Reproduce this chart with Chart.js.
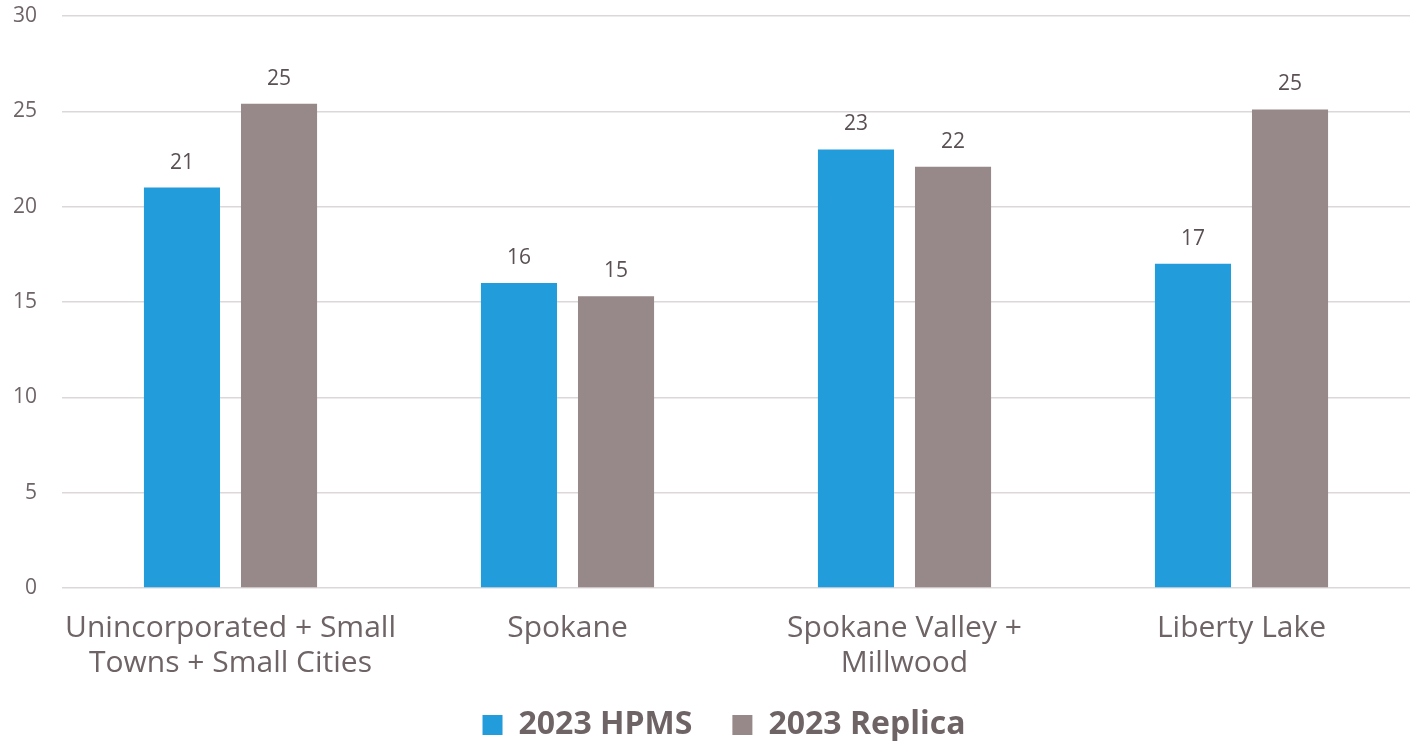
<!DOCTYPE html>
<html><head><meta charset="utf-8">
<script src="https://cdn.jsdelivr.net/npm/chart.js@4"></script>
<style>html,body{margin:0;padding:0;background:#fff}#wrap{width:1410px;height:741px}</style>
</head><body><div id="wrap"><canvas id="c" width="1410" height="741"></canvas></div>
<script>
const categories = [["Unincorporated + Small","Towns + Small Cities"],"Spokane",["Spokane Valley +","Millwood"],"Liberty Lake"];
const hpms = [21.0, 16.0, 23.0, 17.0];
const replica = [25.4, 15.3, 22.1, 25.1];
const seriesNames = ["2023 HPMS","2023 Replica"];
const FONT = "'Open Sans', Lato, sans-serif";
const TXT = "#6e6466";

const labelPlugin = {
  id:'vals',
  afterDatasetsDraw(chart){
    const ctx = chart.ctx;
    ctx.save();
    ctx.font = "21px " + FONT;
    ctx.fillStyle = "#5a5053";
    ctx.textAlign = "center";
    ctx.textBaseline = "middle";
    chart.data.datasets.forEach((ds,i)=>{
      chart.getDatasetMeta(i).data.forEach((el,j)=>{
        ctx.fillText(Math.round(ds.data[j]).toString(), el.x, el.y - 25);
      });
    });
    ctx.restore();
  }
};

// keep the legend compact vertically while using a wide gap between items
const legendTweak = {
  id:'legendTweak',
  beforeLayout(chart){
    const lg = chart.legend;
    if (!lg || lg.__p) return;
    lg.__p = true;
    const fit = lg.fit.bind(lg), draw = lg.draw.bind(lg);
    lg.fit = function(){ fit(); this.height = 48; };
    lg.draw = function(){
      const t = this.top, l = this.left;
      this.top = t - 24; this.left = l + 38;
      draw();
      this.top = t; this.left = l;
    };
  }
};

new Chart(document.getElementById('c'), {
  type:'bar',
  data:{labels:categories, datasets:[
    {label:seriesNames[0], data:hpms, backgroundColor:'#229cdb', categoryPercentage:0.576, barPercentage:0.784},
    {label:seriesNames[1], data:replica, backgroundColor:'#978889', categoryPercentage:0.576, barPercentage:0.784}
  ]},
  options:{
    responsive:false, animation:false, devicePixelRatio:1,
    layout:{padding:{top:16,right:0,left:0,bottom:0}},
    plugins:{
      tooltip:{enabled:false},
      legend:{position:'bottom', labels:{font:{family:FONT,size:32,weight:'bold',lineHeight:1.1}, color:TXT, boxWidth:20, boxHeight:20, padding:40},
        onClick:null}
    },
    scales:{
      x:{grid:{display:false}, border:{display:false},
        ticks:{font:{family:FONT,size:30,lineHeight:1.17}, color:TXT, padding:15, maxRotation:0, autoSkip:false},
        afterFit(s){ s.height = 105; s.paddingLeft = 0; s.paddingRight = 0; }},
      y:{min:0,max:30, grid:{color:'#dcd8d9', lineWidth:1.5, drawTicks:false}, border:{display:false},
        ticks:{stepSize:5, font:{family:FONT,size:21}, color:TXT, padding:25},
        afterFit(s){ s.width = 62; s.paddingTop = 0; s.paddingBottom = 0; }}
    }
  },
  plugins:[labelPlugin, legendTweak]
});
</script></body></html>
